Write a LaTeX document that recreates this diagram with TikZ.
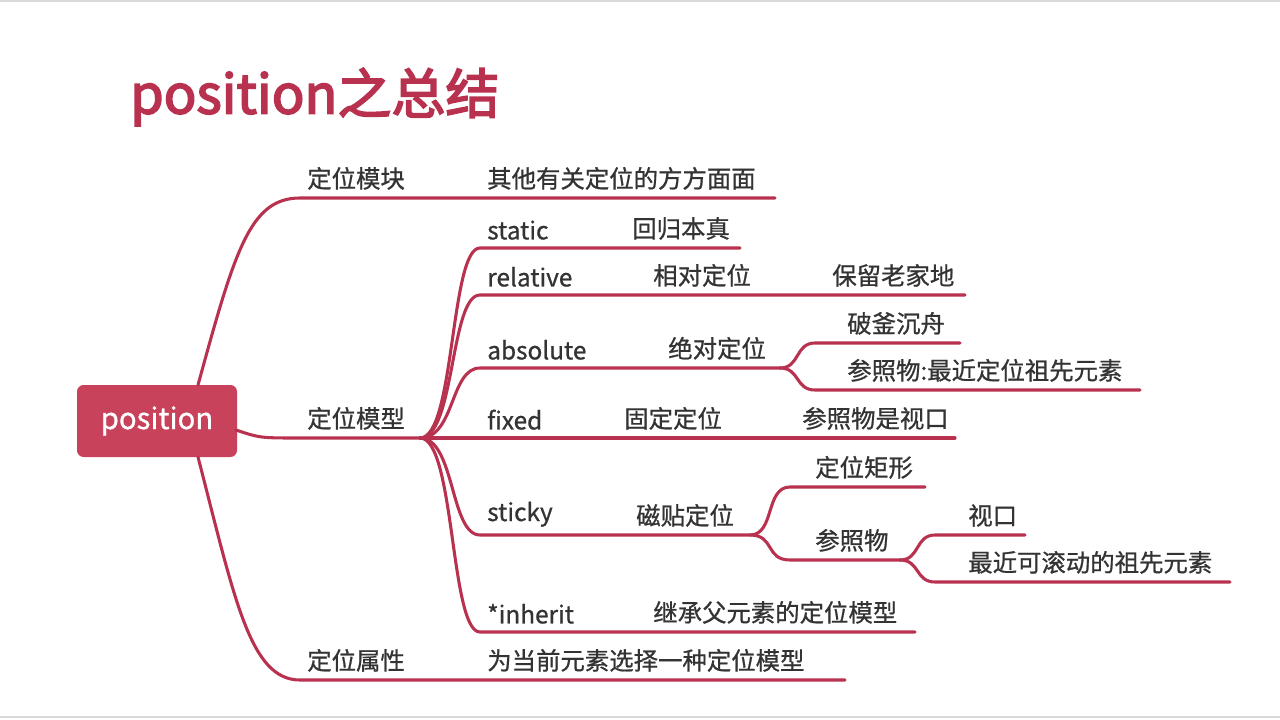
\documentclass[tikz,border=0pt]{standalone}
\usepackage{fontspec}
\setmainfont{Noto Sans CJK SC}
\newfontfamily\lblfont{Noto Sans CJK SC}[FakeBold=0.8]
\newfontfamily\titlefont{Noto Sans CJK SC}[FakeBold=3]
\definecolor{mm}{HTML}{B83250}
\definecolor{rootc}{HTML}{C9425B}
\begin{document}
\begin{tikzpicture}[x=0.75pt,y=-0.75pt,
  ln/.style={draw=mm,line width=2.3pt,line cap=round},
  lbl/.style={anchor=south west,inner sep=0pt,yshift=6pt,font=\lblfont\fontsize{18.3}{20}\selectfont,text=black!80}]
\useasboundingbox (0,0) rectangle (1280,720);
\draw[black!15,line width=1pt] (0,1) -- (1280,1) (0,717) -- (1280,717);
\node[anchor=west,text=mm,font=\titlefont\fontsize{40.5}{43}\selectfont,inner sep=0pt] (title) at (130,97) {position之总结};
\node[fill=rootc,rounded corners=5pt,minimum width=120pt,minimum height=54pt,text=white,font=\lblfont\fontsize{22}{24}\selectfont] (root) at (157,421) {position};
% main branches
\coordinate (rt) at (198,385); \coordinate (rb) at (198,457); \coordinate (rr) at (236,430);
\draw[ln] (rt) .. controls (235,250) and (250,198) .. (300,198) -- (470,198) -- (775,198);
\node[lbl] at (307,198) {定位模块};
\node[lbl] at (487,198) {其他有关定位的方方面面};
\draw[ln] (rr) .. controls (260,438) .. (300,438) -- (420,438);
\node[lbl] at (307,438) {定位模型};
\draw[ln] (rb) .. controls (235,600) and (250,680) .. (300,680) -- (470,680) -- (845,680);
\node[lbl] at (307,680) {定位属性};
\node[lbl] at (487,680) {为当前元素选择一种定位模型};
% children of 定位模型
\coordinate (hub) at (420,438);
\foreach \y/\xe in {248/740,295/965,368/780,438/955,535/750,632/915}{
  \draw[ln] (hub) .. controls (455,438) and (450,\y) .. (480,\y) -- (\xe,\y);
}
\node[lbl] at (487,248) {static}; \node[lbl] at (632,248) {回归本真};
\node[lbl] at (487,295) {relative}; \node[lbl] at (653,295) {相对定位}; \node[lbl] at (832,295) {保留老家地};
\node[lbl] at (487,368) {absolute}; \node[lbl] at (668,368) {绝对定位};
\node[lbl] at (487,438) {fixed}; \node[lbl] at (624,438) {固定定位}; \node[lbl] at (802,438) {参照物是视口};
\node[lbl] at (487,535) {sticky}; \node[lbl] at (636,535) {磁贴定位};
\node[lbl] at (487,632) {*inherit}; \node[lbl] at (653,632) {继承父元素的定位模型};
% absolute split
\draw[ln] (780,368) .. controls (800,368) and (795,343) .. (815,343) -- (960,343);
\draw[ln] (780,368) .. controls (800,368) and (795,390) .. (815,390) -- (1140,390);
\node[lbl] at (847,343) {破釜沉舟}; \node[lbl] at (847,390) {参照物:最近定位祖先元素};
% sticky split
\draw[ln] (750,535) .. controls (775,535) and (765,487) .. (790,487) -- (925,487);
\draw[ln] (750,535) .. controls (775,535) and (765,560) .. (790,560) -- (900,560);
\node[lbl] at (815,487) {定位矩形}; \node[lbl] at (815,560) {参照物};
\draw[ln] (900,560) .. controls (920,560) and (915,535) .. (935,535) -- (1025,535);
\draw[ln] (900,560) .. controls (920,560) and (915,582) .. (935,582) -- (1230,582);
\node[lbl] at (968,535) {视口}; \node[lbl] at (968,582) {最近可滚动的祖先元素};
\end{tikzpicture}
\end{document}
